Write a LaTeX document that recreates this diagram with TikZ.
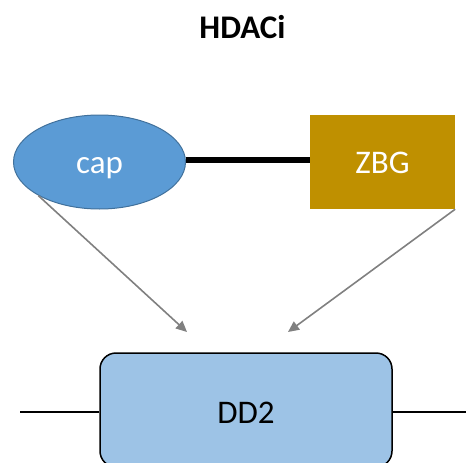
\documentclass[tikz,border=0pt]{standalone}
\usepackage{fontspec}
\setmainfont{Carlito}
\usetikzlibrary{shapes.geometric,arrows.meta}
\definecolor{capblue}{HTML}{5B9BD5}
\definecolor{capedge}{HTML}{41719C}
\definecolor{zbggold}{HTML}{BF9000}
\definecolor{ddblue}{HTML}{9DC3E6}
\definecolor{arrgray}{HTML}{808080}
\tikzset{
  lbl/.style={font=\fontsize{33}{38}\selectfont, inner sep=0pt, text height=22.6pt, text depth=0pt},
  capnode/.style={ellipse, draw=capedge, line width=1pt, fill=capblue, text=white, minimum width=172pt, minimum height=94pt, lbl},
  zbgnode/.style={rectangle, fill=zbggold, text=white, minimum width=145pt, minimum height=94pt, lbl},
  ddnode/.style={rectangle, rounded corners=16pt, draw=black, line width=1.5pt, fill=ddblue, minimum width=292pt, minimum height=114pt, lbl, text height=26pt},
  link/.style={line width=6.5pt, black},
  sideline/.style={line width=2pt, black},
  actarrow/.style={draw=arrgray, line width=1.6pt, -{Triangle[length=11pt,width=10pt]}},
}
\begin{document}
\begin{tikzpicture}[x=1pt,y=-1pt]
\useasboundingbox (0,0) rectangle (466,463);
\node[font=\bfseries\fontsize{33}{38}\selectfont, inner sep=0pt, anchor=base] (title) at (242.5,38.3) {HDACi};
\node[capnode] (cap) at (99.5,162) {cap};
\node[zbgnode] (zbg) at (382.5,162) {ZBG};
\node[ddnode] (dd2) at (246,410) {DD2};
\coordinate (t1) at (187,332);
\coordinate (t2) at (288,332);
\coordinate (l) at (20,412);
\coordinate (r) at (466,412);
\draw[link] (cap.east |- 0,160) -- (zbg.west |- 0,160);
\draw[actarrow] (cap.south west) -- (t1);
\draw[actarrow] (zbg.south east) -- (t2);
\draw[sideline] (l) -- (dd2.west |- l);
\draw[sideline] (dd2.east |- r) -- (r);
\end{tikzpicture}
\end{document}
